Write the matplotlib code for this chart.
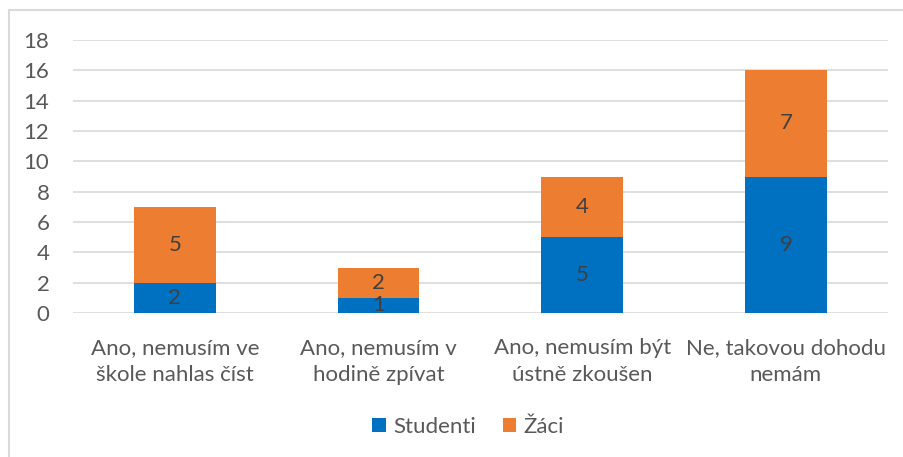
import matplotlib.pyplot as plt
import numpy as np
from matplotlib.patches import Rectangle

kategorie = ["Ano, nemusím ve\nškole nahlas číst", "Ano, nemusím v\nhodině zpívat",
             "Ano, nemusím být\nústně zkoušen", "Ne, takovou dohodu\nnemám"]
studenti = [2, 1, 5, 9]
zaci = [5, 2, 4, 7]
y_ticks = [0, 2, 4, 6, 8, 10, 12, 14, 16, 18]

modra = "#0070C0"
oranzova = "#ED7D31"
seda_text = "#595959"

plt.rcParams['font.family'] = ['Lato', 'DejaVu Sans']
fs = 16

fig = plt.figure(figsize=(9.04, 4.57), dpi=100)
ax = fig.add_axes([0.0808, 0.315, 0.9012, 0.5975])

x = np.arange(len(kategorie))
b1 = ax.bar(x, studenti, width=0.4, color=modra, label="Studenti", zorder=2)
b2 = ax.bar(x, zaci, width=0.4, bottom=studenti, color=oranzova, label="Žáci", zorder=2)
ax.bar_label(b1, label_type='center', fontsize=fs, color="#404040")
ax.bar_label(b2, label_type='center', fontsize=fs, color="#404040")

ax.set_xlim(-0.5, len(kategorie) - 0.5)
ax.set_ylim(0, 18)
ax.set_yticks(y_ticks)
ax.set_xticks(x)
ax.set_xticklabels(kategorie, fontsize=fs, color=seda_text, linespacing=1.45)
ax.tick_params(axis='y', labelsize=fs, labelcolor=seda_text, length=0, pad=17)
ax.tick_params(axis='x', length=0, pad=18)
ax.grid(axis='y', color="#D9D9D9", linewidth=1.2, zorder=0)
for s in ax.spines.values():
    s.set_visible(False)

fig.legend(loc='center', bbox_to_anchor=(0.518, 0.066), ncol=2, frameon=False,
           fontsize=fs, labelcolor=seda_text, handlelength=0.6, handleheight=0.6,
           handletextpad=0.35, columnspacing=1.2)

fig.patches.append(Rectangle((9 / 904, -0.1), 1.2, 1 - 10 / 457 + 0.1, transform=fig.transFigure,
                             fill=False, edgecolor="#D9D9D9", linewidth=1.5))

fig.savefig("out.png", dpi=100)
